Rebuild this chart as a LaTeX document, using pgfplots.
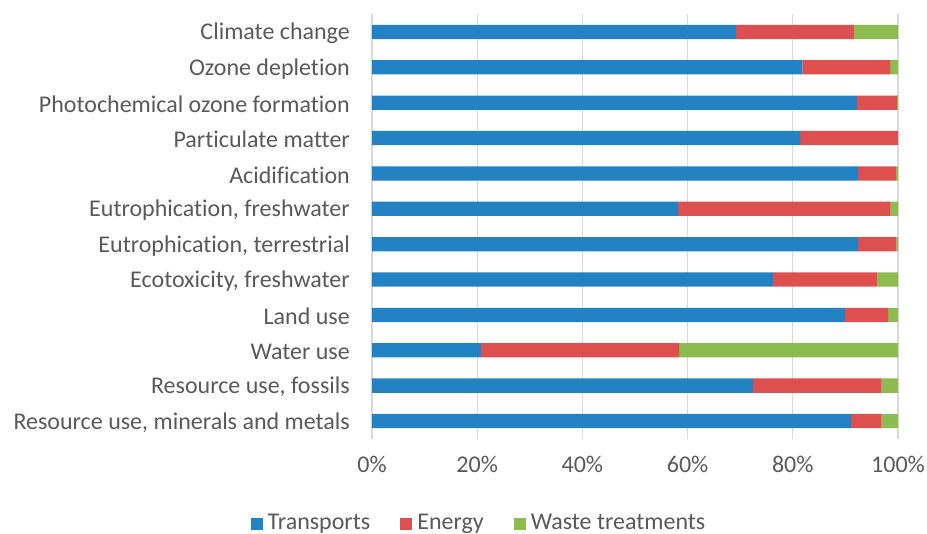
\documentclass[border=0pt]{standalone}
\usepackage{pgfplots}
\pgfplotsset{compat=1.18}
\usepackage{fontspec}
\setmainfont{Carlito}[Ligatures={NoCommon}]
\definecolor{cblue}{RGB}{35,130,195}
\definecolor{cred}{RGB}{222,79,79}
\definecolor{cgreen}{RGB}{140,187,80}
\definecolor{ctext}{RGB}{89,89,89}
\definecolor{cgrid}{RGB}{217,217,217}
\begin{document}
\fontsize{24}{28}\selectfont
\begin{tikzpicture}
\useasboundingbox (0,0) rectangle (927pt,534pt);
\begin{axis}[
  at={(372pt,95.3pt)}, anchor=south west,
  scale only axis, width=526pt, height=424.4pt,
  xbar stacked, bar width=14.3pt,
  xmin=0, xmax=100,
  ymin=-0.5, ymax=11.5, y dir=reverse,
  ytick={0,...,11},
  yticklabels={Climate change,Ozone depletion,Photochemical ozone formation,Particulate matter,Acidification,{Eutrophication, freshwater},{Eutrophication, terrestrial},{Ecotoxicity, freshwater},Land use,Water use,{Resource use, fossils},{Resource use, minerals and metals}},
  xtick={0,20,40,60,80,100},
  xticklabels={0\%,20\%,40\%,60\%,80\%,100\%},
  major tick length=0pt,
  axis line style={draw=none},
  xmajorgrids, major grid style={cgrid, line width=1.2pt},
  tick label style={font=\fontsize{24}{28}\selectfont, text=ctext},
  yticklabel style={anchor=east, inner sep=0pt, xshift=-22pt, yshift=-1.5pt},
  xticklabel style={anchor=north, inner sep=0pt, yshift=-17pt},
  legend style={draw=none, at={(0.2034,-0.2)}, anchor=center, legend columns=3,
    font=\fontsize{24}{28}\selectfont, text=ctext,
    /tikz/every even column/.append style={column sep=28pt}},
  legend image code/.code={\fill[#1] (0pt,-6pt) rectangle (12pt,6pt); \path (15pt,0pt);},
  legend cell align=left,
]
\addplot[fill=cblue, draw=none] coordinates {(69.2,0) (81.8,1) (92.2,2) (81.4,3) (92.4,4) (58.2,5) (92.4,6) (76.2,7) (89.9,8) (20.7,9) (72.4,10) (91.1,11)};
\addplot[fill=cred, draw=none] coordinates {(22.4,0) (16.7,1) (7.6,2) (18.6,3) (7.2,4) (40.4,5) (7.3,6) (19.9,7) (8.2,8) (37.7,9) (24.5,10) (5.8,11)};
\addplot[fill=cgreen, draw=none] coordinates {(8.4,0) (1.5,1) (0.2,2) (0.0,3) (0.4,4) (1.4,5) (0.3,6) (3.9,7) (1.9,8) (41.6,9) (3.1,10) (3.1,11)};
\legend{Transports,Energy,Waste treatments}
\end{axis}
\end{tikzpicture}
\end{document}
